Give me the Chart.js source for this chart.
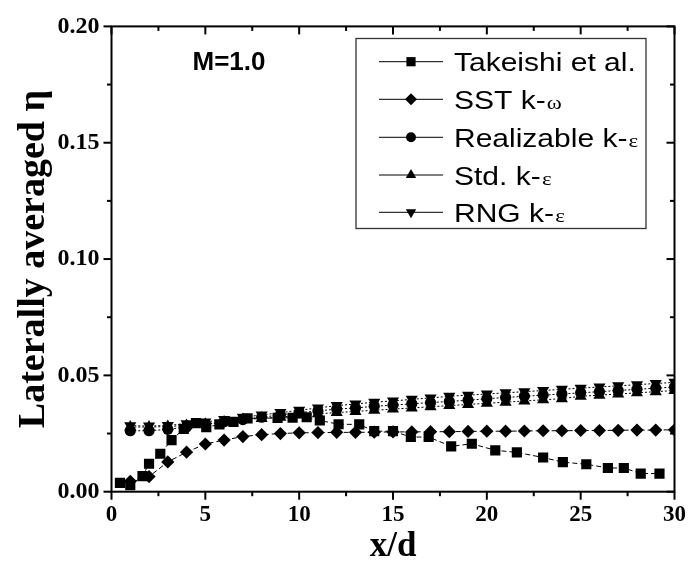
<!DOCTYPE html>
<html>
<head>
<meta charset="utf-8">
<script src="https://cdn.jsdelivr.net/npm/chart.js@4/dist/chart.umd.min.js"></script>
<style>
  html, body { margin: 0; padding: 0; background: #fff; }
  #wrap { width: 696px; height: 568px; }
</style>
</head>
<body>
<div id="wrap"><canvas id="c" width="696" height="568"></canvas></div>
<script>
// Measured film-cooling effectiveness (Takeishi et al.)
const takeishiX = [0.45, 1.0, 1.65, 2.0, 2.6, 3.2, 3.85, 4.5, 5.05, 5.75, 6.5, 7.25, 8.85, 9.65, 10.4, 11.1, 12.1, 13.2, 14.0, 15.0, 15.95, 16.9, 18.1, 19.2, 20.45, 21.6, 23.0, 24.05, 25.3, 26.45, 27.3, 28.2, 29.2];
const takeishiEta = [0.0038, 0.0028, 0.0067, 0.012, 0.0163, 0.0222, 0.027, 0.0295, 0.0277, 0.0289, 0.030, 0.0315, 0.0317, 0.0318, 0.032, 0.0306, 0.029, 0.0289, 0.026, 0.026, 0.0235, 0.0235, 0.0195, 0.0206, 0.0178, 0.0169, 0.0147, 0.0127, 0.0118, 0.0102, 0.0102, 0.0078, 0.0078];

// CFD stations x/d = 1 ... 30
const modelX = [1, 2, 3, 4, 5, 6, 7, 8, 9, 10, 11, 12, 13, 14, 15, 16, 17, 18, 19, 20, 21, 22, 23, 24, 25, 26, 27, 28, 29, 30];
const sstEta = [0.0045, 0.0065, 0.0128, 0.017, 0.0205, 0.0222, 0.0237, 0.0245, 0.025, 0.0253, 0.0254, 0.0255, 0.0255, 0.0256, 0.0257, 0.0257, 0.0258, 0.0258, 0.0259, 0.026, 0.026, 0.0261, 0.0262, 0.0262, 0.0263, 0.0263, 0.0264, 0.0265, 0.0265, 0.0266];
const realizableEta = [0.0262, 0.0262, 0.0268, 0.0278, 0.029, 0.030, 0.031, 0.032, 0.033, 0.034, 0.0347, 0.0355, 0.036, 0.0367, 0.0372, 0.0378, 0.0383, 0.0388, 0.0393, 0.040, 0.0405, 0.041, 0.0415, 0.042, 0.0425, 0.043, 0.0435, 0.044, 0.0445, 0.045];
const stdEta = [0.0278, 0.0278, 0.028, 0.0285, 0.029, 0.030, 0.031, 0.0315, 0.032, 0.033, 0.0335, 0.034, 0.0345, 0.035, 0.0355, 0.036, 0.0365, 0.037, 0.0375, 0.038, 0.0385, 0.039, 0.0395, 0.040, 0.041, 0.0415, 0.042, 0.0425, 0.043, 0.0435];
const rngEta = [0.0284, 0.0282, 0.0285, 0.0292, 0.030, 0.031, 0.032, 0.033, 0.034, 0.035, 0.036, 0.037, 0.0377, 0.0385, 0.039, 0.0397, 0.0403, 0.041, 0.0415, 0.042, 0.0425, 0.043, 0.0435, 0.044, 0.0445, 0.045, 0.0455, 0.046, 0.0465, 0.047];

const seriesNames = ['Takeishi et al.', 'SST k-\u03c9', 'Realizable k-\u03b5', 'Std. k-\u03b5', 'RNG k-\u03b5'];
const xTicks = [0, 5, 10, 15, 20, 25, 30];
const yTicks = [0, 0.05, 0.10, 0.15, 0.20];
const caseLabel = 'M=1.0';

const pts = (xs, ys) => xs.map((v, i) => ({ x: v, y: ys[i] }));

const SERIF = '"Liberation Serif", "Times New Roman", serif';
const SANS = '"Liberation Sans", Arial, sans-serif';

// frame around the plot with major/minor ticks (out on left/bottom, in on top/right)
const frameTicks = {
  id: 'frameTicks',
  afterDatasetsDraw(chart) {
    const { ctx, chartArea: a, scales: { x, y } } = chart;
    ctx.save();
    ctx.strokeStyle = '#000';
    ctx.lineWidth = 2;
    ctx.strokeRect(a.left, a.top, a.right - a.left, a.bottom - a.top);
    const seg = (x1, y1, x2, y2) => { ctx.beginPath(); ctx.moveTo(x1, y1); ctx.lineTo(x2, y2); ctx.stroke(); };
    for (let i = 0; i <= 12; i++) {
      const px = x.getPixelForValue(i * 2.5);
      const len = i % 2 === 0 ? 8 : 4.5;
      seg(px, a.bottom, px, a.bottom + len);
      seg(px, a.top, px, a.top + len);
    }
    for (let i = 0; i <= 8; i++) {
      const py = y.getPixelForValue(i * 0.025);
      const len = i % 2 === 0 ? 8 : 4.5;
      seg(a.left, py, a.left - len, py);
      seg(a.right, py, a.right - len, py);
    }
    ctx.restore();
  }
};

// boxed legend and case annotation inside the plot
const boxLegend = {
  id: 'boxLegend',
  afterDraw(chart) {
    const { ctx } = chart;
    const box = { l: 356, t: 38.5, r: 646, b: 228.5 };
    ctx.save();
    ctx.fillStyle = '#fff';
    ctx.fillRect(box.l, box.t, box.r - box.l, box.b - box.t);
    ctx.strokeStyle = '#333';
    ctx.lineWidth = 1.3;
    ctx.strokeRect(box.l, box.t, box.r - box.l, box.b - box.t);
    const rowY = [61.7, 99.3, 137.3, 175, 212.3];
    chart.data.datasets.forEach((ds, i) => {
      const yy = rowY[i];
      ctx.strokeStyle = '#000';
      ctx.lineWidth = 1;
      ctx.setLineDash([]);
      ctx.beginPath(); ctx.moveTo(379, yy); ctx.lineTo(443, yy); ctx.stroke();
      ctx.fillStyle = '#000';
      Chart.helpers.drawPoint(ctx, {
        pointStyle: ds.pointStyle,
        rotation: ds.pointRotation || 0,
        radius: ds.legendRadius,
        borderWidth: 0
      }, 411, yy);
      const label = ds.label;
      const last = label.charAt(label.length - 1);
      const greek = /[\u0370-\u03ff]/.test(last);
      const main = greek ? label.slice(0, -1) : label;
      ctx.save();
      ctx.translate(454, yy + 9.5);
      ctx.scale(1.2, 1);
      ctx.fillStyle = '#000';
      ctx.textBaseline = 'alphabetic';
      ctx.textAlign = 'left';
      ctx.font = '25px ' + SANS;
      ctx.fillText(main, 0, 0);
      if (greek) {
        const w = ctx.measureText(main).width;
        ctx.font = '19px ' + SERIF;
        ctx.fillText(last, w + 1, 0);
      }
      ctx.restore();
    });
    ctx.fillStyle = '#000';
    ctx.font = 'bold 26px ' + SANS;
    ctx.textAlign = 'center';
    ctx.textBaseline = 'middle';
    ctx.fillText(caseLabel, 229, 63);
    ctx.restore();
  }
};

const lineSet = (label, data, style, radius, legendRadius, dash, extra) => Object.assign({
  label, data,
  showLine: true,
  borderColor: '#000',
  borderWidth: 1,
  borderDash: dash,
  backgroundColor: '#000',
  pointStyle: style,
  pointRadius: radius,
  pointBackgroundColor: '#000',
  pointBorderColor: '#000',
  pointBorderWidth: 0,
  legendRadius,
  tension: 0
}, extra || {});

new Chart(document.getElementById('c'), {
  type: 'scatter',
  data: {
    datasets: [
      lineSet(seriesNames[0], pts(takeishiX, takeishiEta), 'rect', 7.2, 6.5, [5, 3]),
      lineSet(seriesNames[1], pts(modelX, sstEta), 'rectRot', 6.6, 6, [5, 3]),
      lineSet(seriesNames[2], pts(modelX, realizableEta), 'circle', 5.6, 5, [2, 2]),
      lineSet(seriesNames[3], pts(modelX, stdEta), 'triangle', 7, 6, [2, 2]),
      lineSet(seriesNames[4], pts(modelX, rngEta), 'triangle', 7, 6, [2, 2], { pointRotation: 180 })
    ]
  },
  options: {
    responsive: false,
    animation: false,
    devicePixelRatio: 1,
    layout: { padding: { top: 22.7, right: 13.3, left: 0, bottom: 0 } },
    plugins: { legend: { display: false }, tooltip: { enabled: false } },
    scales: {
      x: {
        type: 'linear', min: 0, max: 30,
        afterBuildTicks: s => { s.ticks = xTicks.map(v => ({ value: v })); },
        afterFit: s => { s.height = 76.3; },
        grid: { display: false, drawTicks: false },
        border: { display: false },
        ticks: { color: '#000', padding: 10, font: { family: SERIF, size: 23, weight: 'bold' }, callback: v => String(v) },
        title: { display: true, text: 'x/d', color: '#000', font: { family: SERIF, size: 35, weight: 'bold', lineHeight: 1.2 }, padding: { top: 0, bottom: 0 } }
      },
      y: {
        type: 'linear', min: 0, max: 0.2,
        afterBuildTicks: s => { s.ticks = yTicks.map(v => ({ value: v })); },
        afterFit: s => { s.width = 111.5; },
        grid: { display: false, drawTicks: false },
        border: { display: false },
        ticks: { color: '#000', padding: 12, font: { family: SERIF, size: 24, weight: 'bold' }, callback: v => Number(v).toFixed(2) },
        title: { display: true, text: 'Laterally averaged \u03b7', color: '#000', font: { family: SERIF, size: 38, weight: 'bold', lineHeight: 1.2 }, padding: { top: 11, bottom: 0 } }
      }
    }
  },
  plugins: [frameTicks, boxLegend]
});
</script>
</body>
</html>
